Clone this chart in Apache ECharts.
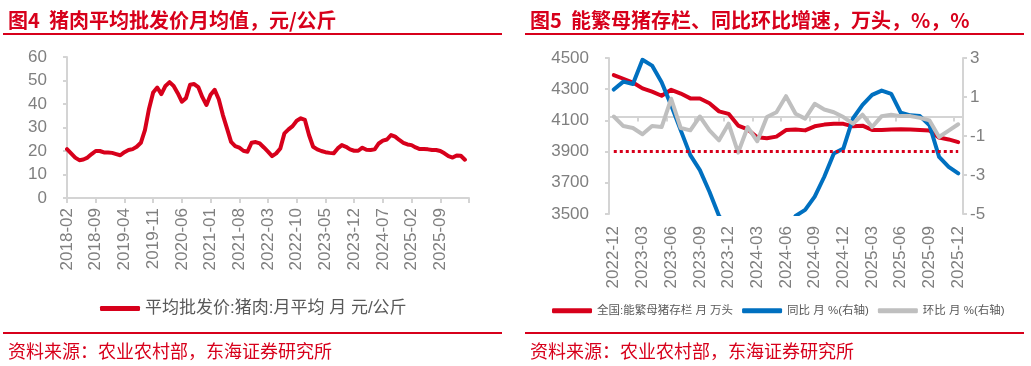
<!DOCTYPE html>
<html>
<head>
<meta charset="utf-8">
<title>猪肉批发价与能繁母猪存栏</title>
<script src="https://cdn.jsdelivr.net/npm/echarts@6/dist/echarts.min.js"></script>
<style>
    html, body { margin: 0; padding: 0; background: #fff; }
    #main { width: 1031px; height: 366px; }
</style>
</head>
<body>
<div id="main"></div>
<script>
// 图4 猪肉平均批发价 (元/公斤), 月度
var priceMonths = [
    '2018-02','2018-03','2018-04','2018-05','2018-06','2018-07','2018-08','2018-09','2018-10','2018-11','2018-12',
    '2019-01','2019-02','2019-03','2019-04','2019-05','2019-06','2019-07','2019-08','2019-09','2019-10','2019-11','2019-12',
    '2020-01','2020-02','2020-03','2020-04','2020-05','2020-06','2020-07','2020-08','2020-09','2020-10','2020-11','2020-12',
    '2021-01','2021-02','2021-03','2021-04','2021-05','2021-06','2021-07','2021-08','2021-09','2021-10','2021-11','2021-12',
    '2022-01','2022-02','2022-03','2022-04','2022-05','2022-06','2022-07','2022-08','2022-09','2022-10','2022-11','2022-12',
    '2023-01','2023-02','2023-03','2023-04','2023-05','2023-06','2023-07','2023-08','2023-09','2023-10','2023-11','2023-12',
    '2024-01','2024-02','2024-03','2024-04','2024-05','2024-06','2024-07','2024-08','2024-09','2024-10','2024-11','2024-12',
    '2025-01','2025-02','2025-03','2025-04','2025-05','2025-06','2025-07','2025-08','2025-09','2025-10','2025-11','2025-12',
    '2026-01','2026-02','2026-03','2026-04'
];
var priceValues = [
    20.8, 19.0, 17.2, 16.1, 16.4, 17.2, 18.7, 20.0, 20.0, 19.4, 19.4,
    19.2, 18.7, 18.2, 19.5, 20.4, 20.8, 21.8, 23.5, 28.9, 38.0, 44.9, 47.0,
    44.2, 47.7, 49.3, 47.7, 44.6, 41.0, 42.5, 48.2, 48.5, 47.2, 42.9, 39.6,
    43.9, 46.0, 42.0, 35.3, 29.6, 23.9, 22.1, 21.4, 20.1, 19.7, 23.5, 23.8,
    23.2, 21.5, 19.7, 17.8, 19.0, 21.1, 27.5, 29.2, 30.6, 32.9, 33.9, 33.2,
    26.8, 21.8, 20.7, 20.0, 19.5, 19.2, 19.0, 21.1, 22.5, 21.8, 20.7, 20.1,
    20.1, 21.4, 20.5, 20.4, 20.7, 23.2, 24.4, 24.9, 26.8, 26.1, 24.7, 23.5,
    22.8, 22.5, 21.5, 20.8, 20.8, 20.7, 20.4, 20.4, 20.0, 19.0, 17.8, 17.2,
    18.1, 18.0, 16.3, null
];
var priceName = '平均批发价:猪肉:月平均 月 元/公斤';

// 图5 能繁母猪存栏 (万头) 及同比、环比 (%)
var sowMonths = [
    '2022-12',
    '2023-01','2023-02','2023-03','2023-04','2023-05','2023-06','2023-07','2023-08','2023-09','2023-10','2023-11','2023-12',
    '2024-01','2024-02','2024-03','2024-04','2024-05','2024-06','2024-07','2024-08','2024-09','2024-10','2024-11','2024-12',
    '2025-01','2025-02','2025-03','2025-04','2025-05','2025-06','2025-07','2025-08','2025-09','2025-10','2025-11','2025-12'
];
var sowStock = [
    4390,
    4367, 4343, 4305, 4284, 4258, 4296, 4272, 4241, 4240, 4210, 4158, 4142,
    4067, 4042, 3992, 3986, 3996, 4038, 4042, 4036, 4062, 4073, 4079, 4078,
    4062, 4066, 4039, 4038, 4042, 4043, 4042, 4038, 4035, 3990, 3978, 3961
];
var sowYoy = [
    1.38,
    1.79, 1.67, 2.91, 2.61, 1.76, 0.57, -0.71, -1.98, -2.75, -3.86, -5.1, -5.7,
    -6.9, -6.9, -7.3, -7.0, -6.2, -6.0, -5.1, -4.79, -4.11, -3.09, -1.9, -1.64,
    -0.1, 0.6, 1.11, 1.33, 1.16, 0.19, 0.06, 0.02, -0.45, -2.07, -2.58, -2.92
];
var sowMom = [
    0.0,
    -0.49, -0.59, -0.91, -0.49, -0.54, 0.91, -0.59, -0.71, 0.0, -0.71, -1.22, -0.37,
    -1.85, -0.54, -1.27, -0.03, 0.22, 1.04, 0.14, -0.11, 0.65, 0.36, 0.22, -0.03,
    -0.37, 0.09, -0.54, 0.02, 0.09, 0.02, 0.02, -0.07, -0.2, -1.05, -0.72, -0.4
];
var sowLine = 3900;   // 红色虚线参考值
var sowNames = ['全国:能繁母猪存栏 月 万头', '同比 月 %(右轴)', '环比 月 %(右轴)'];

var RED = '#d7001b';
var BLUE = '#0070c0';
var GRAY = '#bfbfbf';
var AXIS = '#d4d4d4';
var LABEL = '#7f7f7f';
var FONT = '"Liberation Sans", Arial, "Noto Sans CJK SC", sans-serif';
var CJK = '"Noto Sans CJK SC", "Liberation Sans", sans-serif';

var chart = echarts.init(document.getElementById('main'));

function plain(v) { return String(v); }

function yAxisStyle(extra) {
    var o = {
        type: 'value',
        splitLine: { show: false },
        axisLine: { show: true, lineStyle: { color: AXIS, width: 2 } },
        axisTick: { show: true, length: 4, lineStyle: { color: AXIS, width: 2 } },
        axisLabel: { fontSize: 17, color: LABEL, fontFamily: FONT, margin: 20, formatter: plain }
    };
    for (var k in extra) o[k] = extra[k];
    return o;
}

var option = {
    animation: false,
    textStyle: { fontFamily: FONT },
    title: [
        { text: '图4  猪肉平均批发价月均值，元/公斤', left: 3, top: 5,
          textStyle: { fontSize: 20, fontWeight: 'bold', color: RED, fontFamily: CJK } },
        { text: '图5  能繁母猪存栏、同比环比增速，万头，%，%', left: 525, top: 5,
          textStyle: { fontSize: 20, fontWeight: 'bold', color: RED, fontFamily: CJK } },
        { text: '资料来源：农业农村部，东海证券研究所', left: 3, top: 337,
          textStyle: { fontSize: 18, fontWeight: 'normal', color: RED, fontFamily: CJK } },
        { text: '资料来源：农业农村部，东海证券研究所', left: 525, top: 337,
          textStyle: { fontSize: 18, fontWeight: 'normal', color: RED, fontFamily: CJK } }
    ],
    graphic: [
        { type: 'rect', shape: { x: 3, y: 33, width: 499, height: 2 }, style: { fill: RED } },
        { type: 'rect', shape: { x: 525, y: 33, width: 499, height: 2 }, style: { fill: RED } },
        { type: 'rect', shape: { x: 3, y: 332, width: 499, height: 2 }, style: { fill: RED } },
        { type: 'rect', shape: { x: 525, y: 332, width: 499, height: 2 }, style: { fill: RED } }
    ],
    legend: [
        {
            data: [priceName], left: 95, top: 295,
            icon: 'roundRect', itemWidth: 40, itemHeight: 5, itemGap: 10,
            textStyle: { fontSize: 17, color: '#595959', fontFamily: FONT }
        },
        {
            data: sowNames, left: 547, top: 300,
            icon: 'roundRect', itemWidth: 40, itemHeight: 5, itemGap: 9,
            textStyle: { fontSize: 11.5, color: '#595959', fontFamily: FONT }
        }
    ],
    grid: [
        { left: 67, right: 562, top: 57, bottom: 168 },
        { left: 609, right: 68, top: 58, bottom: 152 }
    ],
    xAxis: [
        {
            gridIndex: 0, type: 'category', data: priceMonths, boundaryGap: false,
            axisLine: { lineStyle: { color: AXIS, width: 2 } },
            axisTick: { show: true, interval: 6, length: 5, lineStyle: { color: AXIS, width: 2 } },
            axisLabel: {
                rotate: 90, fontSize: 17, color: LABEL, margin: 10,
                interval: function (i) { return i % 7 === 0 && i < 98; }
            }
        },
        {
            gridIndex: 1, type: 'category', data: sowMonths, boundaryGap: true,
            axisLine: { lineStyle: { color: AXIS, width: 2 } },
            axisTick: { show: true, interval: 2, length: 5, lineStyle: { color: AXIS, width: 2 } },
            axisLabel: { rotate: 90, fontSize: 17, color: LABEL, margin: 12, interval: 2 }
        }
    ],
    yAxis: [
        yAxisStyle({ gridIndex: 0, min: 0, max: 60, interval: 10 }),
        yAxisStyle({ gridIndex: 1, min: 3500, max: 4500, interval: 200 }),
        yAxisStyle({ gridIndex: 1, position: 'right', min: -5, max: 3, interval: 2,
            axisLabel: { fontSize: 17, color: LABEL, fontFamily: FONT, margin: 7, formatter: plain } })
    ],
    series: [
        {
            name: priceName, type: 'line', xAxisIndex: 0, yAxisIndex: 0,
            data: priceValues, symbol: 'none', connectNulls: false,
            itemStyle: { color: RED },
            lineStyle: { color: RED, width: 4, cap: 'round', join: 'round' }
        },
        {
            name: sowNames[0], type: 'line', xAxisIndex: 1, yAxisIndex: 1,
            data: sowStock, symbol: 'none',
            itemStyle: { color: RED },
            lineStyle: { color: RED, width: 4, cap: 'round', join: 'round' },
            markLine: {
                silent: true, symbol: 'none', label: { show: false },
                lineStyle: { color: RED, width: 3, type: [3, 3] },
                emphasis: { disabled: true },
                data: [[
                    { coord: [sowMonths[0], sowLine] },
                    { coord: [sowMonths[sowMonths.length - 1], sowLine] }
                ]]
            }
        },
        {
            name: sowNames[1], type: 'line', xAxisIndex: 1, yAxisIndex: 2,
            data: sowYoy, symbol: 'none',
            itemStyle: { color: BLUE },
            lineStyle: { color: BLUE, width: 4, cap: 'round', join: 'round' }
        },
        {
            name: sowNames[2], type: 'line', xAxisIndex: 1, yAxisIndex: 2,
            data: sowMom, symbol: 'none',
            itemStyle: { color: GRAY },
            lineStyle: { color: GRAY, width: 4, cap: 'round', join: 'round' }
        }
    ]
};

chart.setOption(option);
window.addEventListener('resize', function () {
    chart.resize();
});
</script>
</body>
</html>
